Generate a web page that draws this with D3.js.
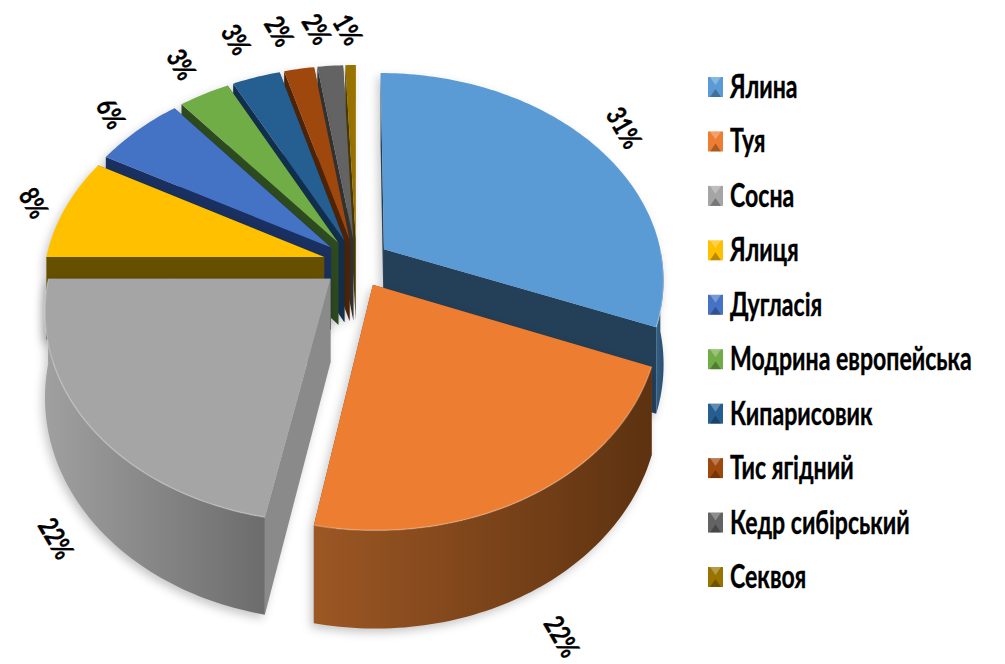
<!DOCTYPE html>
<html lang="uk">
    <head>
        <meta charset="utf-8">
        <title>Породи</title>
        <script type="text/javascript" src="https://cdn.jsdelivr.net/npm/d3@7/dist/d3.min.js"></script>
        <style>
            body { margin: 0; background: #fff; }
            text { font-family: "Lato", "Open Sans", sans-serif; font-weight: 700; fill: #000; stroke: #000; stroke-width: 0.3px; }
        </style>
    </head>
    <body>
        <script type="text/javascript">
            //chart values, the labels show them rounded
            var categories = ["Ялина", "Туя", "Сосна", "Ялиця", "Дугласія", "Модрина европейська",
                              "Кипарисовик", "Тис ягідний", "Кедр сибірський", "Секвоя"];
            var percents = [31, 22, 22, 8, 6, 3.4, 3.2, 2.0, 1.7, 0.7];

            //colours
            var topColors = ["#5b9bd5", "#ed7d31", "#a5a5a5", "#ffc000", "#4472c4",
                             "#70ad47", "#255e91", "#9e480e", "#636363", "#997300"];
            var faceColors = ["#243f58", "#7a431a", "#8a8a8a", "#655000", "#1a3060",
                              "#2e4a20", "#12304e", "#4f2407", "#333333", "#4d3a00"];
            var wallLeft = ["#346085", "#9c5724", "#a0a0a0", "#806000", "#2a4a80",
                            "#48702e", "#18406a", "#6a3008", "#444444", "#665000"];
            var wallRight = ["#2a4e70", "#5d3210", "#6c6c6c", "#655000", "#1a3060",
                             "#2e4a20", "#12304e", "#4f2407", "#333333", "#4d3a00"];

            var svgWidth = 1005;
            var svgHeight = 664;

            //projection of the tilted pie
            var centerX = 356.5;
            var centerY = 263;
            var radiusX = 279;
            var radiusY = 204.5;
            var persp = 0.14;
            var explode = 0.12;
            var depth = 83;
            //how far out each percent label sits, in pie radii, and its sideways nudge
            var labelRadii = [1.18, 1.17, 1.12, 1.12, 1.16, 1.23, 1.27, 1.26, 1.25, 1.24];
            var labelNudge = [-4, 0, 0, -1, 2, 5, 1, -8, -8, -1];

            var svg = d3.select("body")
                         .append("svg")
                         .attr("width", svgWidth)
                         .attr("height", svgHeight)
                         .style("display", "block");

            var defs = svg.append("defs");

            function project(u, v, z) {
                var w = 1 - persp * v;
                return [centerX + radiusX * u / w, centerY + (radiusY * v + z) / w];
            }

            //point on a slice: angle clockwise from the top, r in pie radii
            function slicePoint(d, r, angle, z) {
                var mid = (d.startAngle + d.endAngle) / 2;
                var u = explode * Math.sin(mid) + r * Math.sin(angle);
                var v = -explode * Math.cos(mid) - r * Math.cos(angle);
                return project(u, v, z);
            }

            function arcAngles(a0, a1) {
                var n = Math.max(2, Math.ceil((a1 - a0) / 0.02));
                return d3.range(n + 1).map(function(i) {
                    return a0 + (a1 - a0) * i / n;
                });
            }

            var line = d3.line();
            var pie = d3.pie().sort(null).value(function(d) { return d; });
            var slices = pie(percents);

            //far slices first, the near ones sit on top of them
            var drawOrder = [9, 8, 7, 6, 5, 4, 3, 0, 1, 2];

            drawOrder.forEach(function(i) {
                var d = slices[i];
                var g = svg.append("g")
                           .attr("class", "slice")
                           .style("filter", "drop-shadow(-3px 4px 5px rgba(0,0,0,0.22))");

                //the two cut faces
                [d.startAngle, d.endAngle].forEach(function(a) {
                    var face = [
                        slicePoint(d, 0, a, 0),
                        slicePoint(d, 1, a, 0),
                        slicePoint(d, 1, a, depth),
                        slicePoint(d, 0, a, depth)
                    ];
                    g.append("path")
                     .attr("d", line(face) + "Z")
                     .attr("fill", faceColors[i]);
                });

                //outer wall, front half only
                var a0 = Math.max(d.startAngle, Math.PI / 2);
                var a1 = Math.min(d.endAngle, 3 * Math.PI / 2);
                if (a1 > a0) {
                    var grad = defs.append("linearGradient").attr("id", "wall" + i);
                    grad.append("stop").attr("offset", "0%").attr("stop-color", wallLeft[i]);
                    grad.append("stop").attr("offset", "100%").attr("stop-color", wallRight[i]);

                    var angles = arcAngles(a0, a1);
                    var upper = angles.map(function(a) { return slicePoint(d, 1, a, 0); });
                    var lower = angles.map(function(a) { return slicePoint(d, 1, a, depth); }).reverse();
                    g.append("path")
                     .attr("d", line(upper.concat(lower)) + "Z")
                     .attr("fill", "url(#wall" + i + ")");
                }

                //top of the slice
                var rim = arcAngles(d.startAngle, d.endAngle).map(function(a) {
                    return slicePoint(d, 1, a, 0);
                });
                g.append("path")
                 .attr("d", line([slicePoint(d, 0, 0, 0)].concat(rim)) + "Z")
                 .attr("fill", topColors[i]);

                //soft bevel on the near rim
                if (a1 > a0) {
                    g.append("path")
                     .attr("d", line(arcAngles(a0, a1).map(function(a) { return slicePoint(d, 1, a, 0); })))
                     .attr("fill", "none")
                     .attr("stroke", "#fff")
                     .attr("stroke-opacity", 0.25)
                     .attr("stroke-width", 1.5);
                }
            });

            //percent labels
            slices.forEach(function(d, i) {
                var mid = (d.startAngle + d.endAngle) / 2;
                var near = Math.cos(mid) < 0;
                var p = slicePoint(d, labelRadii[i], mid, near ? depth : 0);
                svg.append("text")
                   .attr("transform", "translate(" + (p[0] + labelNudge[i]) + "," + p[1] + ") rotate(60) scale(0.85,1.1)")
                   .attr("text-anchor", "middle")
                   .attr("dominant-baseline", "central")
                   .attr("font-size", "25px")
                   .text(Math.round(percents[i]) + "%");
            });

            //legend
            var legendY = d3.scalePoint().domain(categories).range([87, 577]);
            var legend = svg.selectAll(".legend")
                            .data(categories)
                            .enter()
                            .append("g")
                            .attr("class", "legend")
                            .attr("transform", function(d) {
                                return "translate(708," + legendY(d) + ")";
                            });

            legend.append("rect")
                  .attr("x", 0).attr("y", -10)
                  .attr("width", 15).attr("height", 20)
                  .attr("fill", function(d, i) { return topColors[i]; });
            legend.append("path")
                  .attr("d", "M2,-10H13L7.5,-2Z")
                  .attr("fill", "#fff").attr("fill-opacity", 0.28);
            legend.append("path")
                  .attr("d", "M2,10H13L7.5,2Z")
                  .attr("fill", "#000").attr("fill-opacity", 0.28);

            legend.append("text")
                  .attr("transform", "translate(22,11) scale(0.855,1.18)")
                  .attr("font-size", "27px")
                  .text(function(d) { return d; });
        </script>
    </body>
</html>
